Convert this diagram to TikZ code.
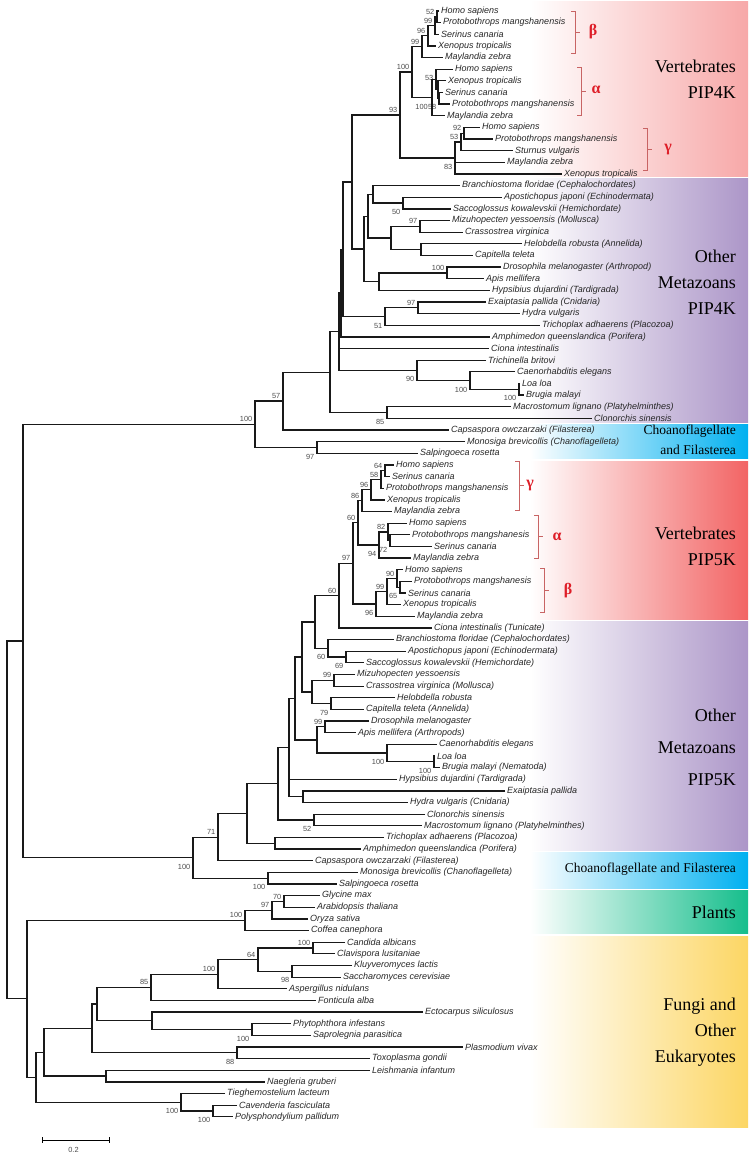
\documentclass[tikz,border=0pt]{standalone}
\usepackage{fontspec}
\setmainfont{Liberation Serif}
\setsansfont{Liberation Sans}
\usetikzlibrary{calc}

\definecolor{redA}{RGB}{247,168,168}
\definecolor{purp}{RGB}{172,150,200}
\definecolor{cyanB}{RGB}{0,176,240}
\definecolor{redB}{RGB}{242,100,100}
\definecolor{greenP}{RGB}{22,190,140}
\definecolor{yellF}{RGB}{252,214,100}
\definecolor{bracketred}{RGB}{200,100,100}
\definecolor{grk}{RGB}{222,30,40}

% clade: name, x, upper child, lower child
\newcommand\clade[4]{%
  \path (#3) -- (#4) coordinate[pos=.5] (m#1);
  \coordinate (#1) at (#2,0 |- m#1);
  \draw[branch] (#3) -| (#1) |- (#4);}
% clade with three children
\newcommand\cladeiii[5]{%
  \path (#3) -- (#5) coordinate[pos=.5] (m#1);
  \coordinate (#1) at (#2,0 |- m#1);
  \draw[branch] (#3) -| (#1) |- (#5);
  \draw[branch] (#1 |- #4) -- (#4);}
% bootstrap values
\newcommand\bsu[2]{\node[bsup] (b#1) at (#1) {#2};}
\newcommand\bsd[2]{\node[bsdn] (b#1) at (#1) {#2};}

\begin{document}
\begin{tikzpicture}[x=1pt,y=-1pt,
    branch/.style={line width=1.25pt,black!90},
    taxon/.style={anchor=west,inner xsep=2pt,inner ysep=0pt,text=black!85,
      font=\sffamily\itshape\fontsize{9}{10}\selectfont},
    bs/.style={anchor=east,inner sep=0pt,xshift=-2.5pt,text=black!70,
      font=\sffamily\fontsize{7.4}{8}\selectfont},
    bsup/.style={bs,yshift=5pt},
    bsdn/.style={bs,yshift=-9pt},
    grouplabel/.style={anchor=east,inner sep=0pt,align=right,
      font=\fontsize{18}{26}\selectfont},
    smallgroup/.style={grouplabel,font=\fontsize{13.5}{20}\selectfont},
    bracket/.style={draw=bracketred,line width=0.8pt},
    greek/.style={inner sep=0pt,text=grk,font=\bfseries\fontsize{16}{16}\selectfont}]
  \useasboundingbox (0,0) rectangle (754,1156);

  % coloured bands
  \foreach \ya/\yb/\c in {2/176/redA, 178/422/purp, 424/458/cyanB, 461/619/redB,
      621/850/purp, 852/888/cyanB, 890/933/greenP, 936/1127/yellF}
    \shade[left color=white,right color=\c] (530,\ya) rectangle (748,\yb);

  \node[grouplabel] (gV4) at (736,79) {Vertebrates\\PIP4K};
  \node[grouplabel] (gO4) at (736,282) {Other\\Metazoans\\PIP4K};
  \node[smallgroup] (gC4) at (736,440) {Choanoflagellate\\and Filasterea};
  \node[grouplabel] (gV5) at (736,546) {Vertebrates\\PIP5K};
  \node[grouplabel,font=\fontsize{18}{32}\selectfont] (gO5) at (736,747) {Other\\Metazoans\\PIP5K};
  \node[smallgroup] (gC5) at (736,869) {Choanoflagellate and Filasterea};
  \node[grouplabel] (gP) at (736,912) {Plants};
  \node[grouplabel] (gF) at (736,1032) {Fungi and\\Other\\Eukaryotes};

  % leaves
  \foreach \i/\x/\t in {1/439/Homo sapiens, 2/441/Protobothrops mangshanensis,
      3/439/Serinus canaria, 4/436/Xenopus tropicalis, 5/443/Maylandia zebra,
      6/453/Homo sapiens, 7/446/Xenopus tropicalis, 8/443/Serinus canaria,
      9/450/Protobothrops mangshanensis, 10/445/Maylandia zebra,
      11/480/Homo sapiens, 12/493/Protobothrops mangshanensis,
      13/513/Sturnus vulgaris, 14/505/Maylandia zebra, 15/562/Xenopus tropicalis,
      16/460/Branchiostoma floridae (Cephalochordates),
      17/502/Apostichopus japoni (Echinodermata),
      18/451/Saccoglossus kowalevskii (Hemichordate),
      19/450/Mizuhopecten yessoensis (Mollusca), 20/463/Crassostrea virginica,
      21/522/Helobdella robusta (Annelida), 22/473/Capitella teleta,
      23/501/Drosophila melanogaster (Arthropod), 24/484/Apis mellifera,
      25/490/Hypsibius dujardini (Tardigrada), 26/486/Exaiptasia pallida (Cnidaria),
      27/520/Hydra vulgaris, 28/540/Trichoplax adhaerens (Placozoa),
      29/490/Amphimedon queenslandica (Porifera), 30/489/Ciona intestinalis,
      31/486/Trichinella britovi, 32/515/Caenorhabditis elegans, 33/520/Loa loa,
      34/524/Brugia malayi, 35/511/Macrostomum lignano (Platyhelminthes),
      36/592/Clonorchis sinensis, 37/449/Capsaspora owczarzaki (Filasterea),
      38/465/Monosiga brevicollis (Chanoflagelleta), 39/418/Salpingoeca rosetta,
      40/394/Homo sapiens, 41/390/Serinus canaria,
      42/384/Protobothrops mangshanensis, 43/385/Xenopus tropicalis,
      44/392/Maylandia zebra, 45/407/Homo sapiens,
      46/410/Protobothrops mangshanesis, 47/432/Serinus canaria,
      48/411/Maylandia zebra, 49/403/Homo sapiens,
      50/412/Protobothrops mangshanesis, 51/406/Serinus canaria,
      52/401/Xenopus tropicalis, 53/415/Maylandia zebra,
      54/432/Ciona intestinalis (Tunicate),
      55/394/Branchiostoma floridae (Cephalochordates),
      56/406/Apostichopus japoni (Echinodermata),
      57/364/Saccoglossus kowalevskii (Hemichordate),
      58/355/Mizuhopecten yessoensis, 59/364/Crassostrea virginica (Mollusca),
      60/395/Helobdella robusta, 61/364/Capitella teleta (Annelida),
      62/369/Drosophila melanogaster, 63/356/Apis mellifera (Arthropods),
      64/437/Caenorhabditis elegans, 65/435/Loa loa,
      66/440/Brugia malayi (Nematoda), 67/397/Hypsibius dujardini (Tardigrada),
      68/505/Exaiptasia pallida, 69/408/Hydra vulgaris (Cnidaria),
      70/425/Clonorchis sinensis, 71/422/Macrostomum lignano (Platyhelminthes),
      72/384/Trichoplax adhaerens (Placozoa),
      73/361/Amphimedon queenslandica (Porifera),
      74/313/Capsaspora owczarzaki (Filasterea),
      75/358/Monosiga brevicollis (Chanoflagelleta), 76/337/Salpingoeca rosetta,
      77/320/Glycine max, 78/315/Arabidopsis thaliana, 79/308/Oryza sativa,
      80/309/Coffea canephora, 81/345/Candida albicans,
      82/335/Clavispora lusitaniae, 83/352/Kluyveromyces lactis,
      84/341/Saccharomyces cerevisiae, 85/287/Aspergillus nidulans,
      86/316/Fonticula alba, 87/423/Ectocarpus siliculosus,
      88/291/Phytophthora infestans, 89/311/Saprolegnia parasitica,
      90/463/Plasmodium vivax, 91/370/Toxoplasma gondii,
      92/370/Leishmania infantum, 93/265/Naegleria gruberi,
      94/225/Tieghemostelium lacteum, 95/237/Cavenderia fasciculata,
      96/233/Polysphondylium pallidum}{
    \coordinate (l\i) at (\x,{11+(\i-1)*11.64});
    \node[taxon] (t\i) at (l\i) {\t};
  }

  % PIP4K, vertebrates
  \clade{c1}{437}{l1}{l2} \bsu{c1}{52}
  \clade{c2}{435}{c1}{l3} \bsu{c2}{99}
  \clade{c3}{428}{c2}{l4} \bsu{c3}{96}
  \clade{c4}{422}{c3}{l5} \bsu{c4}{99}
  \clade{c5}{439}{l8}{l9} \bsd{c5}{58}
  \clade{c6}{438}{l7}{c5}
  \clade{c7}{436}{l6}{c6} \node[bs,yshift=1pt] (bc7) at (c7) {53};
  \clade{c8}{432}{c7}{l10} \node[bsdn,xshift=-1.5pt] (bc8) at (c8) {100};
  \clade{c9}{412}{c4}{c8} \bsu{c9}{100}
  \clade{c10}{464}{l11}{l12} \bsu{c10}{92}
  \clade{c11}{461}{c10}{l13} \bsu{c11}{53}
  \cladeiii{c13}{455}{c11}{l14}{l15} \bsd{c13}{83}
  \clade{c14}{400}{c9}{c13} \bsu{c14}{93}
  % PIP4K, other metazoans
  \clade{c15}{403}{l17}{l18} \bsd{c15}{50}
  \clade{c16}{373}{l16}{c15}
  \clade{c17}{420}{l19}{l20} \bsu{c17}{97}
  \clade{c18}{421}{l21}{l22}
  \clade{c19}{391}{c17}{c18}
  \clade{c20}{368}{c16}{c19}
  \clade{c21}{447}{l23}{l24} \bsu{c21}{100}
  \clade{c22}{379}{c21}{l25}
  \clade{c23}{364}{c20}{c22}
  \clade{c24}{352}{c14}{c23}
  \clade{c25}{418}{l26}{l27} \bsu{c25}{97}
  \clade{c26}{385}{c25}{l28} \bsd{c26}{51}
  \clade{c27}{343}{c24}{c26}
  \clade{c28}{341}{c27}{l29}
  \clade{c29}{519}{l33}{l34} \bsd{c29}{100}
  \clade{c30}{470}{l32}{c29} \bsd{c30}{100}
  \clade{c31}{417}{l31}{c30} \bsd{c31}{90}
  \cladeiii{c32}{339}{c28}{l30}{c31}
  \clade{c33}{387}{l35}{l36} \bsd{c33}{85}
  \clade{c34}{330}{c32}{c33}
  \clade{c35}{283}{c34}{l37} \bsu{c35}{57}
  \clade{c36}{317}{l38}{l39} \bsd{c36}{97}
  \clade{c37}{255}{c35}{c36} \bsu{c37}{100}
  % PIP5K, vertebrates
  \clade{d1}{385}{l40}{l41} \bsu{d1}{64}
  \clade{d2}{381}{d1}{l42} \bsu{d2}{58}
  \clade{d3}{371}{d2}{l43} \bsu{d3}{96}
  \clade{d4}{362}{d3}{l44} \bsu{d4}{86}
  \clade{d5}{390}{l46}{l47} \bsd{d5}{72}
  \clade{d6}{388}{l45}{d5} \bsu{d6}{82}
  \clade{d7}{379}{d6}{l48} \bsd{d7}{94}
  \clade{d8}{358}{d4}{d7} \bsu{d8}{60}
  \clade{d9}{400}{l50}{l51} \bsd{d9}{65}
  \clade{d10}{397}{l49}{d9} \bsu{d10}{90}
  \clade{d11}{387}{d10}{l52} \bsu{d11}{99}
  \clade{d12}{376}{d11}{l53} \bsd{d12}{96}
  \clade{d13}{353}{d8}{d12} \bsu{d13}{97}
  \clade{d14}{339}{d13}{l54} \bsu{d14}{60}
  % PIP5K, other metazoans
  \clade{d15}{346}{l56}{l57} \bsd{d15}{69}
  \clade{d16}{328}{l55}{d15} \bsd{d16}{60}
  \clade{d17}{315}{d14}{d16}
  \clade{d18}{334}{l58}{l59} \bsu{d18}{99}
  \clade{d19}{331}{l60}{l61} \bsd{d19}{79}
  \clade{d20}{312}{d18}{d19}
  \clade{d21}{302}{d17}{d20}
  \clade{d22}{325}{l62}{l63} \bsu{d22}{99}
  \clade{d23}{434}{l65}{l66} \bsd{d23}{100}
  \clade{d24}{387}{l64}{d23} \bsd{d24}{100}
  \clade{d25}{317}{d22}{d24}
  \clade{d26}{295}{d21}{d25}
  \clade{d27}{303}{l68}{l69}
  \cladeiii{d28}{289}{d26}{l67}{d27}
  \clade{d29}{314}{l70}{l71} \bsd{d29}{52}
  \clade{d30}{278}{d28}{d29}
  \clade{d31}{275}{l72}{l73}
  \clade{d32}{247}{d30}{d31}
  \clade{d33}{218}{d32}{l74} \bsu{d33}{71}
  \clade{d34}{268}{l75}{l76} \bsd{d34}{100}
  \clade{d35}{193}{d33}{d34} \bsd{d35}{100}
  \clade{r1}{23}{c37}{d35}
  % plants, fungi and the rest
  \clade{e1}{284}{l77}{l78} \bsu{e1}{70}
  \clade{e2}{272}{e1}{l79} \bsu{e2}{97}
  \clade{e3}{245}{e2}{l80} \bsu{e3}{100}
  \clade{f1}{313}{l81}{l82} \bsu{f1}{100}
  \clade{f2}{292}{l83}{l84} \bsd{f2}{98}
  \clade{f3}{258}{f1}{f2} \bsu{f3}{64}
  \clade{f4}{218}{f3}{l85} \bsu{f4}{100}
  \clade{f5}{151}{f4}{l86} \bsu{f5}{85}
  \clade{f6}{252}{l88}{l89} \bsd{f6}{100}
  \clade{f7}{152}{l87}{f6}
  \clade{f8}{97}{f5}{f7}
  \clade{f9}{237}{l90}{l91} \bsd{f9}{88}
  \clade{f10}{92}{f8}{f9}
  \clade{f11}{106}{l92}{l93}
  \clade{f12}{44}{f10}{f11}
  \clade{f13}{213}{l95}{l96} \bsd{f13}{100}
  \clade{f14}{181}{l94}{f13} \bsd{f14}{100}
  \clade{f15}{36}{f12}{f14}
  \clade{f16}{27}{e3}{f15}
  \clade{root}{7}{r1}{f16}

  % paralog brackets
  \foreach \bx/\ya/\yb in {575/11/53, 581/67/115, 647/128/170,
      519/461/510, 538/515/558, 544/568/612}
    \draw[bracket] (\bx-4,\ya) -- (\bx,\ya) -- (\bx,\yb) -- (\bx-4,\yb)
      (\bx,{(\ya+\yb)/2}) -- (\bx+5,{(\ya+\yb)/2});
  \node[greek] (gb4) at (593,32) {β};
  \node[greek] (ga4) at (596,90) {α};
  \node[greek] (gg4) at (668,150) {γ};
  \node[greek] (gg5) at (530,486) {γ};
  \node[greek] (ga5) at (557,537) {α};
  \node[greek] (gb5) at (568,591) {β};

  % scale bar
  \draw[line width=0.9pt] (42,1137) -- (42,1143) (42,1140) -- (109,1140)
    (109,1137) -- (109,1143);
  \node[bs,anchor=center,xshift=0pt] (sc) at (76,1150) {0.2};
\end{tikzpicture}
\end{document}
